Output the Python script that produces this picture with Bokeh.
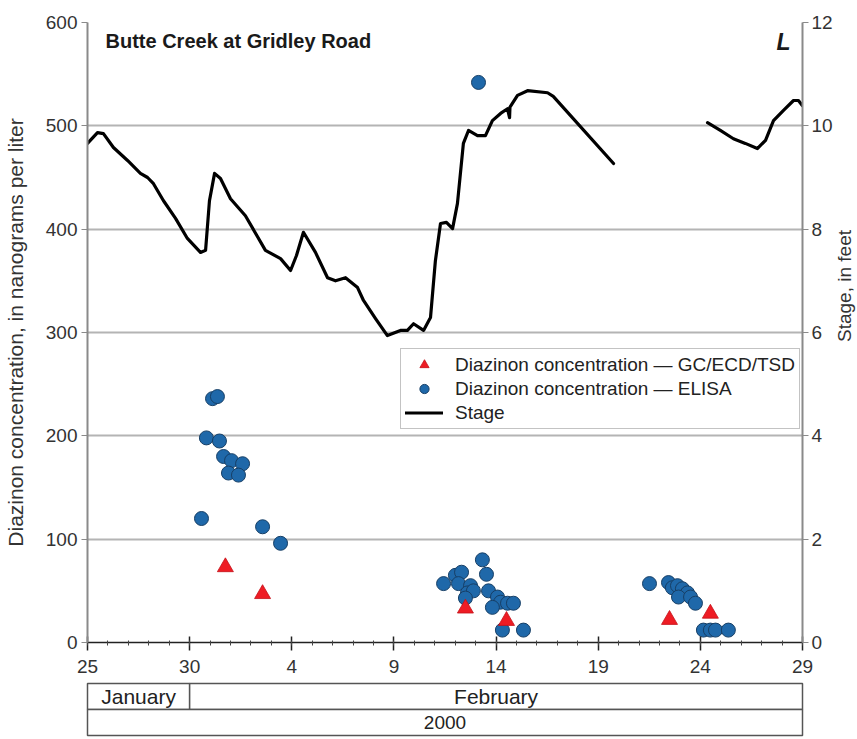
import math
from bokeh.plotting import figure
from bokeh.models import (Range1d, LinearAxis, FixedTicker, Legend, LegendItem,
                          Label, ColumnDataSource)
from bokeh.core.properties import value
from bokeh.layouts import column, row
from bokeh.embed import file_html
from bokeh.resources import INLINE

FONT = "Liberation Sans"

# x = day of year 2000 (Jan 25 = 25, Feb 29 = 60)
tick_days = [25, 30, 35, 40, 45, 50, 55, 60]
tick_labels = ["25", "30", "4", "9", "14", "19", "24", "29"]
conc_ticks = [0, 100, 200, 300, 400, 500, 600]
stage_ticks = [0, 2, 4, 6, 8, 10, 12]

nan = float("nan")
stage_day = [25.0, 25.49, 25.78, 26.27, 26.96, 27.59, 27.94, 28.23, 28.72, 29.31,
             29.89, 30.53, 30.78, 30.97, 31.22, 31.51, 32.0, 32.73, 33.71, 34.45,
             34.94, 35.23, 35.57, 36.16, 36.75, 37.14, 37.63, 38.22, 38.51, 39.1,
             39.68, 40.32, 40.66, 40.96, 41.45, 41.79, 42.03, 42.28, 42.57, 42.87,
             43.11, 43.4, 43.65, 44.09, 44.48, 44.82, 45.22, 45.56, 45.66, 45.68,
             46.05, 46.54, 47.52, 47.8, 50.75, nan,
             55.35, 55.98, 56.62, 57.2, 57.79, 58.19, 58.58, 59.07, 59.56, 59.8, 60.0]
stage_ft = [9.66, 9.87, 9.85, 9.58, 9.33, 9.08, 9.0, 8.88, 8.55, 8.21,
            7.82, 7.55, 7.59, 8.55, 9.08, 8.98, 8.59, 8.26, 7.59, 7.43,
            7.2, 7.49, 7.94, 7.55, 7.06, 7.0, 7.06, 6.87, 6.62, 6.27,
            5.94, 6.04, 6.04, 6.17, 6.04, 6.29, 7.39, 8.11, 8.13, 8.01,
            8.5, 9.66, 9.91, 9.81, 9.81, 10.1, 10.24, 10.33, 10.16, 10.36,
            10.59, 10.68, 10.64, 10.57, 9.27, nan,
            10.06, 9.91, 9.75, 9.66, 9.56, 9.72, 10.1, 10.3, 10.49, 10.49, 10.39]

elisa_day = [31.12, 31.36, 30.82, 31.46, 31.66, 32.05, 32.59, 31.9, 32.39, 30.58, 33.57, 34.45,
             42.43, 43.01, 43.31, 43.16, 43.75, 43.60, 43.89, 43.50, 44.33, 44.53, 44.63,
             45.07, 45.22, 44.82, 45.56, 45.85, 45.31, 46.34, 44.14,
             52.51, 53.44, 53.63, 53.88, 54.12, 54.37, 53.93, 54.52, 54.76,
             55.15, 55.49, 55.74, 56.37]
elisa_conc = [236, 238, 198, 195, 180, 176, 173, 164, 162, 120, 112, 96,
              57, 65, 68, 57, 55, 48, 50, 43, 80, 66, 50,
              44, 39, 34, 38, 38, 12, 12, 542,
              57, 58, 53, 55, 52, 48, 44, 44, 38,
              12, 12, 12, 12]

gc_day = [31.75, 33.57, 43.50, 45.51, 53.49, 55.49]
gc_conc = [73, 47, 33, 21, 22, 28]

month_names = ["January", "February"]
month_start = [25, 30]
month_end = [30, 60]
year_names = ["2000"]
year_start = [25]
year_end = [60]

title_text = "Butte Creek at Gridley Road"
panel_letter = "L"
left_label = "Diazinon concentration, in nanograms per liter"
right_label = "Stage, in feet"

W = 857
FL, FT = 87, 22
FRAME_W = 715
FR_MAIN = 33
MAIN_H = 680
FB = 38
STRIP_W = W - FL - FRAME_W - FR_MAIN

p = figure(width=FL + FRAME_W + FR_MAIN, height=MAIN_H, output_backend="svg", toolbar_location=None,
           x_range=Range1d(tick_days[0], tick_days[-1]),
           y_range=Range1d(conc_ticks[0], conc_ticks[-1]),
           min_border_left=FL, min_border_right=FR_MAIN, min_border_top=FT, min_border_bottom=FB,
           outline_line_color=None, background_fill_color="white")
p.extra_y_ranges = {"stage": Range1d(stage_ticks[0], stage_ticks[-1])}

p.xgrid.grid_line_color = None
p.ygrid.grid_line_color = "#b4b4b4"
p.ygrid.grid_line_width = 2
p.ygrid.ticker = FixedTicker(ticks=conc_ticks)

xa = p.xaxis[0]
xa.ticker = FixedTicker(ticks=tick_days, minor_ticks=list(range(tick_days[0], tick_days[-1] + 1)))
xa.major_label_overrides = {d: s for d, s in zip(tick_days, tick_labels)}
xa.axis_line_color = "#222222"
xa.axis_line_width = 1.5
xa.major_tick_line_color = "#222222"
xa.major_tick_line_width = 1.5
xa.major_tick_in = 6
xa.major_tick_out = 8
xa.minor_tick_line_color = "#444444"
xa.minor_tick_in = 2
xa.minor_tick_out = 3
xa.major_label_text_font = FONT
xa.major_label_text_font_size = "19px"
xa.major_label_text_color = "#333333"
xa.major_label_standoff = 9

ya = p.yaxis[0]
ya.ticker = FixedTicker(ticks=conc_ticks)
ya.minor_tick_line_color = None
ya.axis_line_color = "#8a8a8a"
ya.axis_line_width = 2
ya.major_tick_line_color = "#8a8a8a"
ya.major_tick_in = 0
ya.major_tick_out = 6
ya.major_label_text_font = FONT
ya.major_label_text_font_size = "19px"
ya.major_label_text_color = "#333333"
ya.major_label_standoff = 4
ya.axis_label = left_label
ya.axis_label_text_font = FONT
ya.axis_label_text_font_size = "21px"
ya.axis_label_text_font_style = "normal"
ya.axis_label_text_color = "#333333"
ya.axis_label_standoff = 16

ra = LinearAxis(y_range_name="stage", ticker=FixedTicker(ticks=stage_ticks))
ra.minor_tick_line_color = None
ra.axis_line_color = "#8a8a8a"
ra.axis_line_width = 2
ra.major_tick_line_color = "#8a8a8a"
ra.major_tick_in = 0
ra.major_tick_out = 6
ra.major_label_text_font = FONT
ra.major_label_text_font_size = "19px"
ra.major_label_text_color = "#333333"
ra.major_label_standoff = 3
p.add_layout(ra, "right")

stage_src = ColumnDataSource(dict(x=stage_day, y=stage_ft))
r_stage = p.line("x", "y", source=stage_src, y_range_name="stage",
                 line_color="black", line_width=3.2, line_join="round", line_cap="round")

elisa_src = ColumnDataSource(dict(x=elisa_day, y=elisa_conc))
r_elisa = p.scatter("x", "y", source=elisa_src, marker="circle", size=14,
                    fill_color="#1f68a9", line_color="#173f66", line_width=1)

gc_src = ColumnDataSource(dict(x=gc_day, y=gc_conc))
r_gc = p.scatter("x", "y", source=gc_src, marker="triangle", size=16,
                 fill_color="#ee1c24", line_color="#c41018", line_width=0.8)

legend = Legend(items=[
    LegendItem(label="Diazinon concentration \u2014 GC/ECD/TSD", renderers=[r_gc]),
    LegendItem(label="Diazinon concentration \u2014 ELISA", renderers=[r_elisa]),
    LegendItem(label="Stage", renderers=[r_stage]),
], location=(313, 213))
legend.label_text_font = FONT
legend.label_text_font_size = "19px"
legend.label_text_color = "#222222"
legend.label_height = 23
legend.glyph_height = 23
legend.glyph_width = 38
legend.spacing = 1
legend.padding = 4
legend.margin = 0
legend.label_standoff = 12
legend.border_line_color = "#888888"
legend.border_line_width = 1.2
legend.background_fill_alpha = 1
p.add_layout(legend)

p.add_layout(Label(x=18, y=613, x_units="screen", y_units="screen", text=title_text,
                   text_font=FONT, text_font_size="20px", text_font_style="bold",
                   text_color="#1a1a1a", text_baseline="top"))
p.add_layout(Label(x=703, y=614, x_units="screen", y_units="screen", text=panel_letter,
                   text_font=FONT, text_font_size="23px", text_font_style="bold italic",
                   text_color="#1a1a1a", text_baseline="top", text_align="right"))

# right-hand axis title strip (reads bottom-to-top like the reference)
s = figure(width=STRIP_W, height=MAIN_H, output_backend="svg", toolbar_location=None,
           x_range=Range1d(0, 1), y_range=p.extra_y_ranges["stage"],
           min_border_left=0, min_border_right=0, min_border_top=FT, min_border_bottom=FB,
           outline_line_color=None)
s.axis.visible = False
s.grid.visible = False
s.text(x=[0.42], y=[6.9], text=[right_label], angle=math.pi / 2,
       text_font=value(FONT), text_font_size="19px", text_color="#333333",
       text_align="center", text_baseline="middle")

# month / year boxes
px_per_day = FRAME_W / (tick_days[-1] - tick_days[0])
pad = 2
q = figure(width=W, height=739 - MAIN_H, output_backend="svg", toolbar_location=None,
           x_range=Range1d(tick_days[0] - pad / px_per_day, tick_days[-1] + pad / px_per_day),
           y_range=Range1d(-0.154, 2.115),
           min_border_left=FL - pad, min_border_right=W - FL - FRAME_W - pad,
           min_border_top=0, min_border_bottom=0,
           outline_line_color=None)
q.axis.visible = False
q.grid.visible = False
q.quad(left=month_start, right=month_end, bottom=1, top=2, fill_color="white",
       line_color="#555555", line_width=1.5)
q.quad(left=year_start, right=year_end, bottom=0, top=1, fill_color="white",
       line_color="#555555", line_width=1.5)
q.text(x=[(a + b) / 2 for a, b in zip(month_start, month_end)], y=[1.5] * len(month_names),
       text=month_names, text_font=value(FONT), text_font_size="21px", text_color="#222222",
       text_align="center", text_baseline="middle")
q.text(x=[(a + b) / 2 for a, b in zip(year_start, year_end)], y=[0.5], text=year_names,
       text_font=value(FONT), text_font_size="19px", text_color="#222222",
       text_align="center", text_baseline="middle")

layout = column(row(p, s, spacing=0), q, spacing=0)
open("out.html", "w").write(file_html(layout, INLINE))
